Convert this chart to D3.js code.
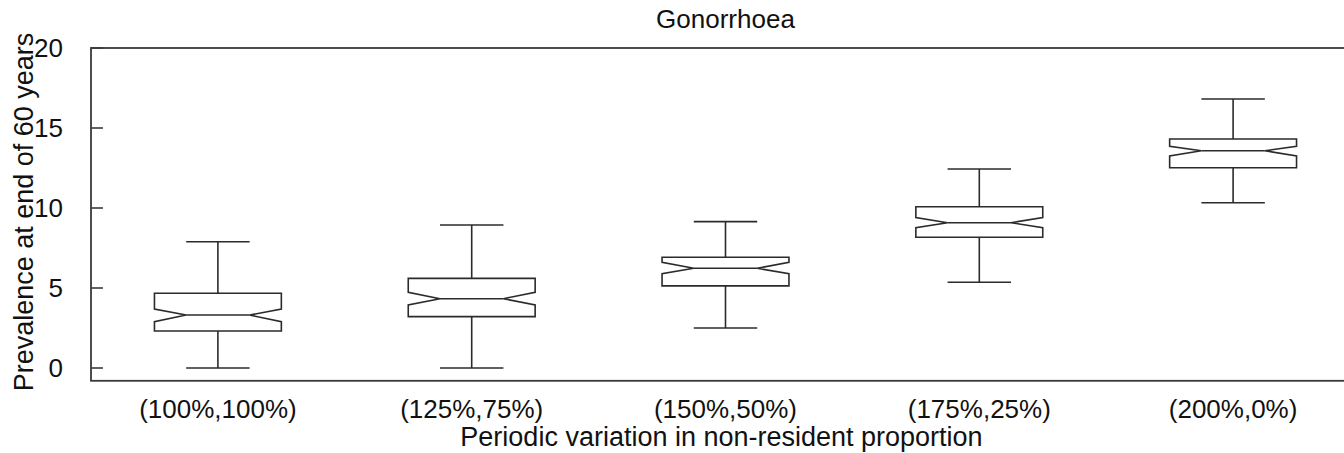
<!DOCTYPE html>
<html>
<head>
<meta charset="utf-8">
<script src="https://cdn.jsdelivr.net/npm/d3@7"></script>
<style>
  html, body { margin: 0; padding: 0; background: #fff; }
  svg { display: block; }
  text { font-family: "Liberation Sans", Arial, Helvetica, sans-serif; fill: #111; }
</style>
</head>
<body>
<svg id="chart" width="1344" height="453"></svg>
<script>
// ---- data ----
const categories = ["(100%,100%)", "(125%,75%)", "(150%,50%)", "(175%,25%)", "(200%,0%)"];
const whiskerLow  = [0.0, 0.0, 2.5, 5.36, 10.33];
const q1          = [2.31, 3.21, 5.13, 8.17, 12.52];
const median      = [3.31, 4.33, 6.23, 9.08, 13.58];
const q3          = [4.67, 5.60, 6.92, 10.08, 14.31];
const whiskerHigh = [7.89, 8.94, 9.15, 12.44, 16.81];
const notchLow    = [2.90, 3.94, 5.90, 8.77, 13.25];
const notchHigh   = [3.68, 4.73, 6.60, 9.40, 13.85];
const yTicks = [0, 5, 10, 15, 20];
const title = "Gonorrhoea";
const xLabel = "Periodic variation in non-resident proportion";
const yLabel = "Prevalence at end of 60 years";

// ---- layout ----
const svg = d3.select("#chart");
const x = d3.scaleLinear().domain([0.5, categories.length + 0.5]).range([91, 1360]);
const y = d3.scaleLinear().domain([0, 20]).range([368, 48]);
const yBottom = y(-0.8);
const boxHalf = 0.25, capHalf = 0.125, waistHalf = 0.125;
const stroke = "#2b2b2b";
const textCenterX = (x(0.5) + x(categories.length + 0.5)) / 2;

// frame
svg.append("rect")
  .attr("x", x(0.5)).attr("y", y(20))
  .attr("width", x(categories.length + 0.5) - x(0.5))
  .attr("height", yBottom - y(20))
  .attr("fill", "none").attr("stroke", "#3a3a3a").attr("stroke-width", 1.8);

// y axis ticks (inward) and labels
const yAxis = svg.append("g");
yAxis.selectAll("line").data(yTicks).join("line")
  .attr("x1", x(0.5)).attr("x2", x(0.5) + 12)
  .attr("y1", d => y(d)).attr("y2", d => y(d))
  .attr("stroke", "#3a3a3a").attr("stroke-width", 1.6);
yAxis.selectAll("text").data(yTicks).join("text")
  .attr("x", 63).attr("y", d => y(d))
  .attr("text-anchor", "end").attr("dominant-baseline", "central")
  .attr("font-size", 26)
  .text(d => d);

// x tick labels
svg.append("g").selectAll("text").data(categories).join("text")
  .attr("x", (d, i) => x(i + 1)).attr("y", 418)
  .attr("text-anchor", "middle").attr("font-size", 26)
  .text(d => d);

// boxes
const idx = d3.range(categories.length);
const g = svg.append("g").attr("fill", "none").attr("stroke", stroke).attr("stroke-width", 1.6);
idx.forEach(i => {
  const c = i + 1;
  g.append("line").attr("x1", x(c)).attr("x2", x(c)).attr("y1", y(q3[i])).attr("y2", y(whiskerHigh[i]));
  g.append("line").attr("x1", x(c)).attr("x2", x(c)).attr("y1", y(q1[i])).attr("y2", y(whiskerLow[i]));
  g.append("line").attr("x1", x(c - capHalf)).attr("x2", x(c + capHalf)).attr("y1", y(whiskerHigh[i])).attr("y2", y(whiskerHigh[i]));
  g.append("line").attr("x1", x(c - capHalf)).attr("x2", x(c + capHalf)).attr("y1", y(whiskerLow[i])).attr("y2", y(whiskerLow[i]));
  const pts = [
    [c - boxHalf, q1[i]], [c - boxHalf, notchLow[i]], [c - waistHalf, median[i]],
    [c - boxHalf, notchHigh[i]], [c - boxHalf, q3[i]], [c + boxHalf, q3[i]],
    [c + boxHalf, notchHigh[i]], [c + waistHalf, median[i]], [c + boxHalf, notchLow[i]],
    [c + boxHalf, q1[i]]
  ];
  g.append("path")
    .attr("d", d3.line().x(p => x(p[0])).y(p => y(p[1]))(pts) + "Z")
    .attr("fill", "#fff");
  g.append("line").attr("x1", x(c - waistHalf)).attr("x2", x(c + waistHalf))
    .attr("y1", y(median[i])).attr("y2", y(median[i]));
});

// title and axis labels
svg.append("text").attr("x", textCenterX).attr("y", 28)
  .attr("text-anchor", "middle").attr("font-size", 26).text(title);
svg.append("text").attr("x", textCenterX - 4).attr("y", 446)
  .attr("text-anchor", "middle").attr("font-size", 27).text(xLabel);
svg.append("text")
  .attr("transform", `translate(33,212) rotate(-90)`)
  .attr("text-anchor", "middle").attr("font-size", 27).text(yLabel);
</script>
</body>
</html>
